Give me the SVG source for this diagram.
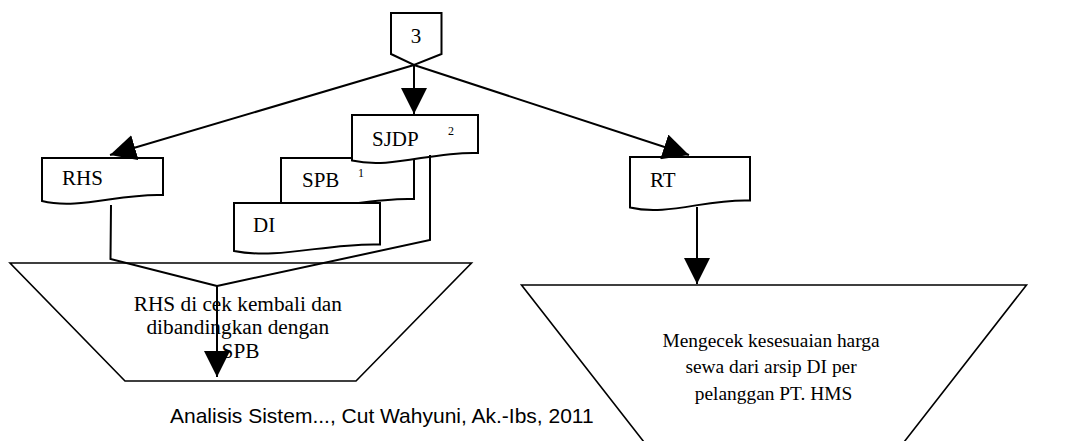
<svg xmlns="http://www.w3.org/2000/svg" width="1085" height="441" viewBox="0 0 1085 441">
  <style>
    .shape { fill: #ffffff; stroke: #000000; stroke-width: 2; stroke-linejoin: miter; }
    .proc { fill: #ffffff; stroke: #000000; stroke-width: 1.6; }
    .line { fill: none; stroke: #000000; stroke-width: 2; }
    .lbl { font-family: "Liberation Serif", "Times New Roman", serif; font-size: 21px; fill: #000000; }
    .sup { font-family: "Liberation Serif", "Times New Roman", serif; font-size: 12px; fill: #000000; }
    .ptext { font-family: "Liberation Serif", "Times New Roman", serif; fill: #000000; text-anchor: middle; }
    .foot { font-family: "Liberation Sans", Arial, sans-serif; font-size: 21px; fill: #000000; }
  </style>
  <defs>
    <marker id="arrow" viewBox="0 0 26 26" refX="26" refY="13" markerWidth="26" markerHeight="26" markerUnits="userSpaceOnUse" orient="auto">
      <path d="M0,0 L26,13 L0,26 Z" fill="#000000"/>
    </marker>
  </defs>

  <rect width="1085" height="441" fill="#ffffff"/>

  <!-- off-page connector -->
  <g id="node-3">
    <polygon class="shape" points="391,13 441.5,13 441.5,54 414,65 391,54"/>
    <text class="lbl" x="416" y="43" text-anchor="middle">3</text>
  </g>

  <!-- documents -->
  <g id="node-rhs">
    <path class="shape" d="M42,158 H163 V195 C120,193 79.5,210 42,201 Z"/>
    <text class="lbl" x="62" y="185">RHS</text>
  </g>

  <g id="node-spb">
    <path class="shape" d="M281,158 H414 V199 C366.8,197 322.2,214 281,205 Z"/>
    <text class="lbl" x="302" y="187">SPB</text>
    <text class="sup" x="358" y="177">1</text>
  </g>

  <g id="node-sjdp">
    <path class="shape" d="M352,115 H478 V153 C433.3,151 391,169.5 352,160.5 Z"/>
    <text class="lbl" x="372" y="146">SJDP</text>
    <text class="sup" x="448" y="135">2</text>
  </g>

  <g id="node-di">
    <path class="shape" d="M234,203 H380 V244.5 C328.2,242.5 279.3,260 234,251 Z"/>
    <text class="lbl" x="253" y="232">DI</text>
  </g>

  <g id="node-rt">
    <path class="shape" d="M630,157 H750 V200.5 C707.4,198.5 667.2,216.5 630,207.5 Z"/>
    <text class="lbl" x="650" y="187">RT</text>
  </g>

  <!-- manual operations -->
  <g id="node-cek-rhs">
    <polygon class="proc" points="10,263 471.5,263 356,381 125,381"/>
    <text class="ptext" font-size="21.3">
      <tspan x="240.5" y="311">RHS di cek kembali dan</tspan>
      <tspan x="240.5" y="334">dibandingkan dengan</tspan>
      <tspan x="240.5" y="358">SPB</tspan>
    </text>
  </g>

  <g id="node-cek-harga">
    <polygon class="proc" points="521.5,285 1026.5,285 890,460 658,460"/>
    <text class="ptext" font-size="19.4">
      <tspan x="773.5" y="347">Mengecek kesesuaian harga</tspan>
      <tspan x="773.5" y="373">sewa dari arsip DI per</tspan>
      <tspan x="773.5" y="400">pelanggan PT. HMS</tspan>
    </text>
  </g>

  <!-- connectors -->
  <g id="connectors">
    <line class="line" x1="414" y1="65" x2="414" y2="114" marker-end="url(#arrow)"/>
    <line class="line" x1="414" y1="65" x2="110" y2="155" marker-end="url(#arrow)"/>
    <line class="line" x1="414" y1="65" x2="689" y2="155" marker-end="url(#arrow)"/>
    <polyline class="line" points="111,205 110.5,259 217,286"/>
    <polyline class="line" points="430,155 430,240 217,286"/>
    <line class="line" x1="217" y1="286" x2="217" y2="377" marker-end="url(#arrow)"/>
    <line class="line" x1="697" y1="207" x2="697" y2="284" marker-end="url(#arrow)"/>
  </g>

  <text class="foot" x="170" y="423">Analisis Sistem..., Cut Wahyuni, Ak.-Ibs, 2011</text>
</svg>
